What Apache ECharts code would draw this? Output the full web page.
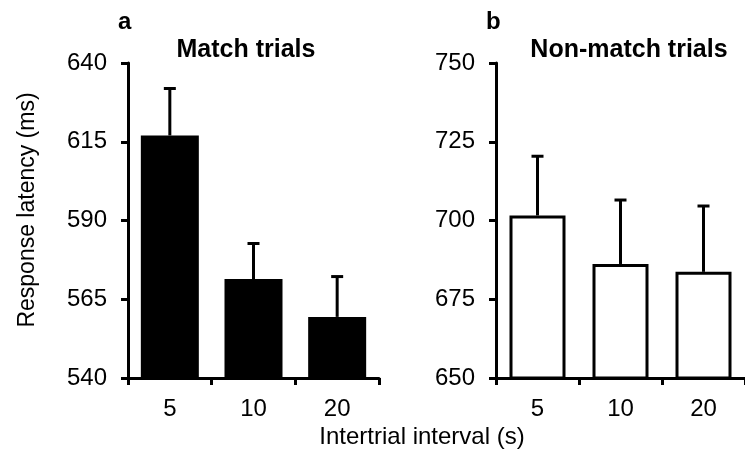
<!DOCTYPE html>
<html>
<head>
<meta charset="utf-8">
<script src="https://cdn.jsdelivr.net/npm/echarts@6/dist/echarts.min.js"></script>
<style>html,body{margin:0;padding:0;background:#fff;}#c{width:745px;height:466px;}</style>
</head>
<body>
<div id="c"></div>
<script>
var categories = ['5', '10', '20'];
var matchMean = [617.0, 571.4, 559.4];
var matchUpper = [631.9, 582.7, 572.2];
var nonMatchMean = [701.6, 686.2, 683.7];
var nonMatchUpper = [720.4, 706.5, 704.6];
var matchTicks = [540, 565, 590, 615, 640];
var nonMatchTicks = [650, 675, 700, 725, 750];

var FONT = '"Liberation Sans", Arial, sans-serif';
var chart = echarts.init(document.getElementById('c'), null, {renderer: 'canvas'});

function errItem(params, api) {
  var x = api.value(0);
  var top = api.coord([x, api.value(2)]);
  var base = api.coord([x, api.value(1)]);
  var cap = 6;
  return {
    type: 'group',
    children: [
      {type: 'line', shape: {x1: top[0], y1: base[1], x2: top[0], y2: top[1]}, style: {stroke: '#000', lineWidth: 3}},
      {type: 'line', shape: {x1: top[0] - cap, y1: top[1], x2: top[0] + cap, y2: top[1]}, style: {stroke: '#000', lineWidth: 3}}
    ]
  };
}

function xAxisCfg(gi) {
  return {
    type: 'category', gridIndex: gi, data: categories,
    axisLine: {lineStyle: {color: '#000', width: 3}},
    axisTick: {show: true, length: 7, inside: false, lineStyle: {color: '#000', width: 3}, alignWithLabel: false},
    axisLabel: {color: '#000', fontSize: 24, fontFamily: FONT, margin: 19},
    splitLine: {show: false}
  };
}
function yAxisCfg(gi, ticks) {
  return {
    type: 'value', gridIndex: gi, min: ticks[0], max: ticks[ticks.length - 1],
    axisLine: {show: true, lineStyle: {color: '#000', width: 3}},
    axisTick: {show: true, length: 7, lineStyle: {color: '#000', width: 3}, customValues: ticks},
    axisLabel: {color: '#000', fontSize: 24, fontFamily: FONT, margin: 21, customValues: ticks},
    splitLine: {show: false}
  };
}

var option = {
  backgroundColor: '#fff',
  animation: false,
  grid: [
    {left: 128, top: 63, width: 251, height: 315},
    {left: 496, top: 63, width: 251, height: 315}
  ],
  xAxis: [xAxisCfg(0), xAxisCfg(1)],
  yAxis: [yAxisCfg(0, matchTicks), yAxisCfg(1, nonMatchTicks)],
  series: [
    {type: 'bar', xAxisIndex: 0, yAxisIndex: 0, data: matchMean, barWidth: 58,
     itemStyle: {color: '#000', borderColor: '#000', borderWidth: 0}, z: 2},
    {type: 'custom', xAxisIndex: 0, yAxisIndex: 0, renderItem: errItem,
     data: categories.map(function (c, i) { return [i, matchMean[i], matchUpper[i]]; }), z: 1},
    {type: 'bar', xAxisIndex: 1, yAxisIndex: 1, data: nonMatchMean, barWidth: 56,
     itemStyle: {color: '#fff', borderColor: '#000', borderWidth: 3}, z: 2},
    {type: 'custom', xAxisIndex: 1, yAxisIndex: 1, renderItem: errItem,
     data: categories.map(function (c, i) { return [i, nonMatchMean[i], nonMatchUpper[i]]; }), z: 1}
  ],
  graphic: [
    {type: 'text', left: 118, top: 10, style: {text: 'a', font: 'bold 24px ' + FONT, fill: '#000'}},
    {type: 'text', left: 486, top: 10, style: {text: 'b', font: 'bold 24px ' + FONT, fill: '#000'}},
    {type: 'text', x: 246, y: 50, style: {text: 'Match trials', font: 'bold 25px ' + FONT, fill: '#000', align: 'center', verticalAlign: 'middle'}},
    {type: 'text', x: 629, y: 50, style: {text: 'Non-match trials', font: 'bold 25px ' + FONT, fill: '#000', align: 'center', verticalAlign: 'middle'}},
    {type: 'text', x: 422, y: 437, style: {text: 'Intertrial interval (s)', font: '24px ' + FONT, fill: '#000', align: 'center', verticalAlign: 'middle'}},
    {type: 'text', x: 28, y: 210, rotation: Math.PI / 2, style: {text: 'Response latency (ms)', font: '23px ' + FONT, fill: '#000', align: 'center', verticalAlign: 'middle'}}
  ]
};
chart.setOption(option);
</script>
</body>
</html>
